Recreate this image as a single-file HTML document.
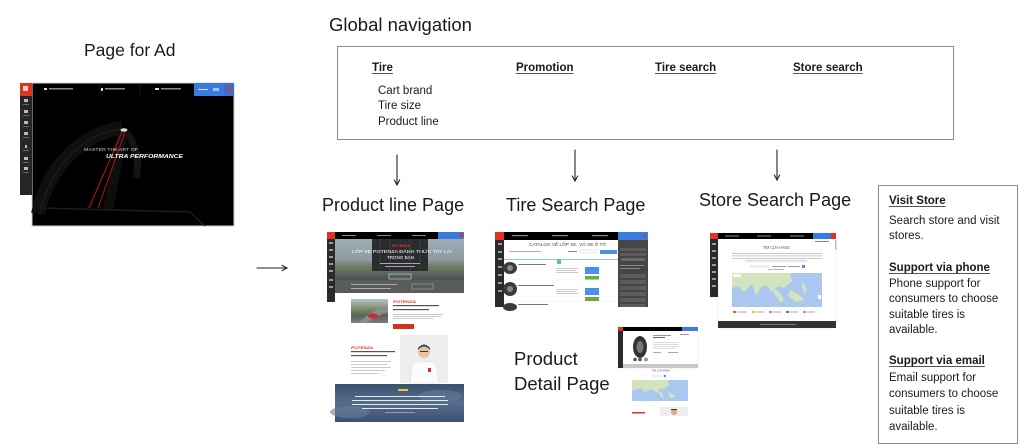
<!DOCTYPE html>
<html>
<head>
<meta charset="utf-8">
<style>
  html,body{margin:0;padding:0;background:#fff;}
  body{width:1024px;height:448px;position:relative;overflow:hidden;font-family:"Liberation Sans","Noto Sans CJK SC",sans-serif;}
  .t{position:absolute;white-space:nowrap;color:#1a1a1a;font-family:"Liberation Sans","Noto Sans CJK SC",sans-serif;}
  .big{font-size:18px;line-height:22px;}
  .nh{font-size:11.5px;line-height:14px;font-weight:bold;text-decoration:underline;text-decoration-color:#555;text-underline-offset:2px;}
  .ns{font-size:11.5px;line-height:14px;}
  .r{font-size:11.5px;line-height:15px;left:889px;}
  .rb{font-weight:bold;text-decoration:underline;text-decoration-color:#555;text-underline-offset:2px;}
  .box{position:absolute;border:1px solid #8c8c8c;box-sizing:border-box;}
</style>
</head>
<body>

<div class="box" style="left:337px;top:46px;width:617px;height:94px;"></div>
<div class="box" style="left:878px;top:185px;width:140px;height:259px;"></div>

<svg width="1024" height="448" style="position:absolute;left:0;top:0" xmlns="http://www.w3.org/2000/svg">
  <defs>
    <linearGradient id="hero" x1="0" y1="0" x2="0" y2="1">
      <stop offset="0" stop-color="#9eacb6"/>
      <stop offset="0.5" stop-color="#8f9ba1"/>
      <stop offset="0.68" stop-color="#6f7c62"/>
      <stop offset="1" stop-color="#4a4f53"/>
    </linearGradient>
    <linearGradient id="sky" x1="0" y1="0" x2="0" y2="1">
      <stop offset="0" stop-color="#3a506f"/>
      <stop offset="0.5" stop-color="#566c8c"/>
      <stop offset="1" stop-color="#3d5272"/>
    </linearGradient>
    <linearGradient id="car" x1="0" y1="0" x2="0" y2="1">
      <stop offset="0" stop-color="#b9c3c9"/>
      <stop offset="0.4" stop-color="#7f8f6c"/>
      <stop offset="0.7" stop-color="#5a6355"/>
      <stop offset="1" stop-color="#7a7e80"/>
    </linearGradient>
  </defs>

  <!-- ================= Page for Ad ================= -->
  <rect x="32" y="83" width="202" height="143" fill="#000" stroke="#cfcfcf" stroke-width="1"/>
  <rect x="20" y="83" width="12" height="112" fill="#262626"/>
  <rect x="20" y="83" width="12" height="13" fill="#e2321f"/>
  <rect x="23" y="86" width="5" height="5" fill="#fff" opacity="0.8"/>
  <g fill="#bbb">
    <rect x="24" y="99" width="4" height="3"/><rect x="23" y="104" width="6" height="1" fill="#666"/>
    <rect x="24" y="110" width="4" height="3"/><rect x="23" y="115" width="6" height="1" fill="#666"/>
    <rect x="24" y="121" width="4" height="3"/><rect x="23" y="126" width="6" height="1" fill="#666"/>
    <rect x="24" y="132" width="4" height="3"/><rect x="23" y="137" width="6" height="1" fill="#666"/>
    <rect x="25" y="145" width="2" height="3"/><rect x="23" y="150" width="6" height="1" fill="#666"/>
    <rect x="24" y="157" width="4" height="3"/><rect x="23" y="162" width="6" height="1" fill="#666"/>
    <rect x="24" y="167" width="4" height="3"/><rect x="23" y="172" width="6" height="1" fill="#666"/>
  </g>
  <g fill="#888">
    <rect x="44" y="88" width="3" height="2" fill="#ddd"/><rect x="49" y="88" width="24" height="1.5"/>
    <rect x="101" y="88" width="2" height="3" fill="#ddd"/><rect x="105" y="88" width="20" height="1.5"/>
    <rect x="155" y="88" width="4" height="2" fill="#ddd"/><rect x="161" y="88" width="20" height="1.5"/>
  </g>
  <line x1="100" y1="84" x2="100" y2="95" stroke="#1a1a1a"/>
  <line x1="140" y1="84" x2="140" y2="95" stroke="#1a1a1a"/>
  <rect x="194" y="83" width="40" height="13" fill="#3a7be0"/>
  <rect x="198" y="89" width="10" height="1" fill="#cfe0ff"/>
  <rect x="213" y="88" width="6" height="3" fill="#cfe0ff" opacity="0.7"/>
  <rect x="224" y="83" width="10" height="13" fill="#3a6fd0"/>
  <circle cx="229" cy="89" r="2" fill="#e2321f"/>
  <!-- beam (faint) -->
  <path d="M38 214 C48 165, 85 132, 122 128" stroke="#0f0f0f" stroke-width="14" fill="none"/>
  <path d="M40 212 C52 162, 88 132, 121 129" stroke="#262626" stroke-width="0.8" fill="none"/>
  <path d="M127 133 C136 145, 140 162, 136 178" stroke="#141414" stroke-width="7" fill="none"/>
  <path d="M123 132 L108 210" stroke="#0e0e0e" stroke-width="10"/>
  <line x1="122" y1="132" x2="89" y2="208" stroke="#a8161a" stroke-width="1.1"/>
  <line x1="125" y1="132" x2="98" y2="208" stroke="#a8161a" stroke-width="1.1"/>
  <ellipse cx="124" cy="130" rx="3.5" ry="1.8" fill="#d8d8d8"/>
  <path d="M40 208 L190 212 L205 226" stroke="#1c1c1c" stroke-width="1.5" fill="none"/>
  <text x="84" y="151" font-size="4.5" fill="#ccc" textLength="54" lengthAdjust="spacingAndGlyphs" font-family="Liberation Sans">MASTER THE ART OF</text>
  <text x="106" y="158" font-size="5.5" fill="#fff" font-weight="bold" font-style="italic" textLength="77" lengthAdjust="spacingAndGlyphs" font-family="Liberation Sans">ULTRA PERFORMANCE</text>

  <!-- ================= Product line Page ================= -->
  <rect x="327" y="232" width="8" height="70" fill="#2a2a2a"/>
  <rect x="327" y="232" width="8" height="7" fill="#e2321f"/>
  <g fill="#999"><rect x="329" y="242" width="4" height="2"/><rect x="329" y="249" width="4" height="2"/><rect x="329" y="256" width="4" height="2"/><rect x="329" y="263" width="4" height="2"/><rect x="329" y="270" width="4" height="2"/><rect x="329" y="279" width="4" height="2"/><rect x="329" y="286" width="4" height="2"/></g>
  <rect x="335" y="232" width="103" height="7" fill="#000"/>
  <g fill="#888"><rect x="342" y="235" width="14" height="1"/><rect x="377" y="235" width="14" height="1"/><rect x="412" y="235" width="14" height="1"/></g>
  <rect x="438" y="232" width="26" height="7" fill="#3a7be0"/>
  <rect x="460" y="233" width="3" height="4" fill="#e2321f"/>
  <rect x="335" y="239" width="129" height="41" fill="url(#hero)"/>
  <rect x="372" y="239" width="56" height="32" fill="#2a2c2f"/>
  <g stroke="#3b3e42" stroke-width="1"><line x1="380" y1="239" x2="380" y2="271"/><line x1="390" y1="239" x2="390" y2="271"/><line x1="410" y1="239" x2="410" y2="271"/><line x1="420" y1="239" x2="420" y2="271"/></g>
  <text x="392" y="247" font-size="3.5" fill="#e2321f" font-weight="bold" textLength="18" lengthAdjust="spacingAndGlyphs" font-family="Liberation Sans">POTENZA</text>
  <text x="352" y="253" font-size="4.5" fill="#fff" textLength="100" lengthAdjust="spacingAndGlyphs" font-family="Liberation Sans">LỐP XE POTENZA ĐÁNH THỨC TAY LÁI</text>
  <text x="387" y="259" font-size="4.5" fill="#fff" textLength="27" lengthAdjust="spacingAndGlyphs" font-family="Liberation Sans">TRONG BẠN</text>
  <rect x="380" y="263" width="40" height="1" fill="#ddd" opacity="0.7"/>
  <rect x="385" y="266" width="30" height="1" fill="#ddd" opacity="0.7"/>
  <rect x="389" y="274" width="22" height="5" fill="none" stroke="#ddd" stroke-width="0.6"/>
  <rect x="335" y="280" width="129" height="13" fill="#5b5b5b"/>
  <rect x="351" y="284" width="46" height="1" fill="#aaa"/>
  <rect x="351" y="288" width="40" height="1" fill="#aaa"/>
  <rect x="412" y="284" width="21" height="5" fill="none" stroke="#aaa" stroke-width="0.6"/>
  <rect x="351" y="299" width="37" height="24" fill="url(#car)"/>
  <path d="M358 323 Q372 310 388 306 L388 312 Q375 316 366 323Z" fill="#8a8d90"/>
  <ellipse cx="373" cy="316" rx="5" ry="2.5" fill="#d42a2a"/>
  <text x="393" y="303" font-size="3.5" fill="#e2321f" font-weight="bold" font-style="italic" textLength="23" lengthAdjust="spacingAndGlyphs" font-family="Liberation Sans">POTENZA</text>
  <rect x="393" y="305" width="46" height="1.2" fill="#555"/>
  <rect x="393" y="309" width="36" height="1.2" fill="#555"/>
  <g fill="#bbb"><rect x="393" y="314" width="50" height="0.8"/><rect x="393" y="316" width="48" height="0.8"/><rect x="393" y="318" width="40" height="0.8"/></g>
  <rect x="393" y="324" width="21" height="5" fill="#d2321e"/>
  <rect x="400" y="335" width="48" height="48" fill="#eeeeee"/>
  <path d="M410 383 L412 364 Q424 358 436 364 L439 383Z" fill="#fbfbfb" stroke="#d8d8d8" stroke-width="0.5"/>
  <circle cx="424" cy="352" r="6" fill="#e7c2a4"/>
  <path d="M418 350 Q424 343 430 350 L430 348 Q424 341 418 348Z" fill="#444"/>
  <rect x="420" y="351" width="8" height="1" fill="#333"/>
  <rect x="428" y="368" width="3" height="4" fill="#c33"/>
  <text x="351" y="349" font-size="3.5" fill="#e2321f" font-weight="bold" font-style="italic" textLength="22" lengthAdjust="spacingAndGlyphs" font-family="Liberation Sans">POTENZA</text>
  <rect x="351" y="351" width="44" height="1.2" fill="#555"/>
  <rect x="351" y="355" width="36" height="1.2" fill="#555"/>
  <g fill="#bbb"><rect x="351" y="361" width="40" height="0.8"/><rect x="351" y="364" width="36" height="0.8"/><rect x="351" y="367" width="40" height="0.8"/><rect x="351" y="370" width="34" height="0.8"/><rect x="351" y="373" width="28" height="0.8"/></g>
  <rect x="335" y="384" width="129" height="38" fill="url(#sky)"/>
  <ellipse cx="350" cy="412" rx="20" ry="6" fill="#6b7f99" opacity="0.6"/>
  <ellipse cx="440" cy="396" rx="22" ry="6" fill="#6a7e98" opacity="0.5"/>
  <rect x="398" y="389" width="10" height="2" fill="#e8c53a"/>
  <g fill="#e6ecf3"><rect x="355" y="396" width="90" height="1"/><rect x="352" y="400" width="96" height="1"/><rect x="352" y="404" width="96" height="1"/><rect x="362" y="408" width="76" height="1"/><rect x="385" y="412" width="30" height="0.8" fill="#aab"/></g>

  <!-- ================= Tire Search Page ================= -->
  <rect x="495" y="232" width="153" height="75" fill="#fff"/>
  <rect x="495" y="232" width="9" height="75" fill="#2a2a2a"/>
  <rect x="495" y="232" width="9" height="8" fill="#e2321f"/>
  <g fill="#999"><rect x="498" y="243" width="4" height="2"/><rect x="498" y="251" width="4" height="2"/><rect x="498" y="258" width="4" height="2"/><rect x="498" y="266" width="4" height="2"/><rect x="498" y="274" width="4" height="2"/><rect x="498" y="282" width="4" height="2"/><rect x="498" y="290" width="4" height="2"/></g>
  <rect x="504" y="232" width="114" height="8" fill="#000"/>
  <g fill="#888"><rect x="512" y="235" width="16" height="1.2"/><rect x="552" y="235" width="16" height="1.2"/><rect x="592" y="235" width="16" height="1.2"/></g>
  <rect x="618" y="232" width="30" height="8" fill="#3a7be0"/>
  <rect x="644" y="234" width="2" height="3" fill="#e2321f"/>
  <rect x="618" y="240" width="30" height="67" fill="#464646"/>
  <g fill="#5c5c5c"><rect x="620" y="248" width="26" height="3"/><rect x="620" y="253" width="26" height="3"/><rect x="621" y="258" width="24" height="3" fill="#6a6a6a"/><rect x="620" y="265" width="24" height="1" fill="#888"/><rect x="620" y="268" width="20" height="1" fill="#888"/>
  <rect x="620" y="274" width="26" height="4"/><rect x="620" y="280" width="26" height="4"/><rect x="620" y="286" width="26" height="4"/><rect x="620" y="292" width="26" height="4"/><rect x="620" y="298" width="26" height="4"/><rect x="620" y="304" width="26" height="3"/></g>
  <text x="529" y="246" font-size="4.8" fill="#444" textLength="77" lengthAdjust="spacingAndGlyphs" font-family="Liberation Sans">CATALOG VỀ LỐP XE, VỎ XE Ô TÔ</text>
  <rect x="509" y="251" width="32" height="1" fill="#aaa"/>
  <rect x="568" y="251" width="9" height="1" fill="#888"/>
  <rect x="580" y="250" width="16" height="3" fill="none" stroke="#ccc" stroke-width="0.5"/>
  <rect x="600" y="250" width="17" height="4" fill="#4a8ff0"/>
  <rect x="504" y="259" width="114" height="1" fill="#8fd0cc"/>
  <rect x="557" y="259" width="4" height="5" fill="#5bbfb0"/>
  <ellipse cx="510" cy="268" rx="7" ry="6" fill="#3b3b3b"/>
  <ellipse cx="510" cy="268" rx="3" ry="3" fill="#888"/>
  <ellipse cx="510" cy="289" rx="7" ry="7" fill="#3b3b3b"/>
  <ellipse cx="510" cy="289" rx="3" ry="3" fill="#888"/>
  <ellipse cx="510" cy="307" rx="7" ry="4" fill="#3b3b3b"/>
  <g fill="#777"><rect x="518" y="264" width="28" height="1"/><rect x="518" y="285" width="36" height="1"/><rect x="518" y="304" width="30" height="1"/></g>
  <g fill="#bbb"><rect x="556" y="268" width="22" height="0.8"/><rect x="556" y="270" width="20" height="0.8"/><rect x="556" y="272" width="22" height="0.8"/><rect x="556" y="289" width="22" height="0.8"/><rect x="556" y="291" width="20" height="0.8"/><rect x="556" y="293" width="22" height="0.8"/></g>
  <rect x="585" y="267" width="14" height="7" fill="#4a8ff0"/>
  <rect x="585" y="276" width="14" height="3.5" fill="#6aab3a"/>
  <rect x="585" y="288" width="14" height="7" fill="#4a8ff0"/>
  <rect x="585" y="297" width="14" height="4" fill="#6aab3a"/>
  <line x1="504" y1="280" x2="618" y2="280" stroke="#eee" stroke-width="0.6"/>
  <line x1="504" y1="301.5" x2="618" y2="301.5" stroke="#eee" stroke-width="0.6"/>

  <!-- ================= Store Search Page ================= -->
  <rect x="718" y="233" width="118" height="95" fill="#fff" stroke="#e3e3e3" stroke-width="0.5"/>
  <rect x="710" y="233" width="8" height="64" fill="#2a2a2a"/>
  <rect x="710" y="233" width="8" height="6" fill="#e2321f"/>
  <g fill="#999"><rect x="712" y="243" width="4" height="2"/><rect x="712" y="250" width="4" height="2"/><rect x="712" y="257" width="4" height="2"/><rect x="712" y="264" width="4" height="2"/><rect x="712" y="271" width="4" height="2"/><rect x="712" y="278" width="4" height="2"/><rect x="712" y="285" width="4" height="2"/></g>
  <rect x="718" y="233" width="95" height="6" fill="#000"/>
  <g fill="#888"><rect x="725" y="235.5" width="14" height="1"/><rect x="757" y="235.5" width="14" height="1"/><rect x="790" y="235.5" width="14" height="1"/></g>
  <rect x="813" y="233" width="18" height="6" fill="#3a7be0"/>
  <rect x="831" y="233" width="5" height="6" fill="#e2321f"/>
  <rect x="835" y="240" width="1.5" height="10" fill="#bbb"/>
  <rect x="815" y="241" width="14" height="1" fill="#888"/>
  <text x="763" y="249" font-size="4.5" fill="#555" textLength="27" lengthAdjust="spacingAndGlyphs" font-family="Liberation Sans">TÌM CỬA HÀNG</text>
  <g fill="#bbb"><rect x="732" y="253" width="90" height="0.8"/><rect x="732" y="255.5" width="90" height="0.8"/><rect x="732" y="258" width="90" height="0.8"/><rect x="745" y="260.5" width="62" height="0.8"/></g>
  <rect x="750" y="265" width="20" height="3" fill="#eee"/>
  <rect x="772" y="266" width="14" height="1" fill="#999"/>
  <rect x="788" y="266" width="12" height="1" fill="#999"/>
  <rect x="802" y="265" width="3" height="3" fill="#4a8ff0"/>
  <rect x="768" y="269" width="16" height="1" fill="#9bbcf0"/>
  <rect x="732" y="273" width="90" height="34" fill="#aac8ef"/>
  <path d="M732 273 L790 273 L792 281 L784 288 L778 286 L772 292 L766 285 L758 289 L752 284 L744 292 L738 286 L732 288Z" fill="#d2e4bd"/>
  <path d="M770 286 L776 296 L781 303 L784 299 L779 292Z" fill="#d2e4bd"/>
  <path d="M752 284 L756 295 L760 290Z" fill="#d2e4bd"/>
  <path d="M790 290 L798 294 L805 300 L796 302 L788 296Z" fill="#d2e4bd"/>
  <path d="M803 282 L807 290 L805 294 L802 287Z" fill="#d2e4bd"/>
  <rect x="818" y="295" width="3" height="4" fill="#fff"/>
  <rect x="733" y="274" width="8" height="3" fill="#fff"/>
  <g><rect x="733" y="311" width="3" height="2" fill="#e25b4b"/><rect x="737" y="311.5" width="10" height="1" fill="#aaa"/>
  <rect x="752" y="311" width="3" height="2" fill="#f0b84a"/><rect x="756" y="311.5" width="8" height="1" fill="#aaa"/>
  <rect x="769" y="311" width="3" height="2" fill="#999"/><rect x="773" y="311.5" width="8" height="1" fill="#aaa"/>
  <rect x="786" y="311" width="3" height="2" fill="#4a7bd0"/><rect x="790" y="311.5" width="8" height="1" fill="#aaa"/>
  <rect x="803" y="311" width="3" height="2" fill="#e27ad8"/><rect x="807" y="311.5" width="8" height="1" fill="#aaa"/></g>
  <rect x="718" y="321" width="118" height="7" fill="#333"/>
  <rect x="760" y="324" width="36" height="1" fill="#777"/>

  <!-- ================= Product Detail Page ================= -->
  <rect x="618" y="327" width="80" height="41" fill="#fff" stroke="#e5e5e5" stroke-width="0.5"/>
  <rect x="618" y="327" width="5" height="41" fill="#2a2a2a"/>
  <rect x="618" y="327" width="5" height="4" fill="#e2321f"/>
  <rect x="623" y="327" width="59" height="4" fill="#000"/>
  <rect x="682" y="327" width="16" height="4" fill="#3a7be0"/>
  <rect x="623" y="364" width="75" height="4" fill="#c8c8c8"/>
  <ellipse cx="640" cy="347" rx="7" ry="11" fill="#333"/>
  <ellipse cx="640" cy="347" rx="3.5" ry="6" fill="#777"/>
  <circle cx="635" cy="359.5" r="1.8" fill="#555"/>
  <circle cx="640" cy="359.5" r="1.8" fill="#555"/>
  <circle cx="646" cy="359.5" r="2" fill="#999"/>
  <g fill="#999"><rect x="653" y="335" width="18" height="1"/><rect x="653" y="337" width="12" height="1" fill="#666"/></g>
  <g fill="#ccc"><rect x="653" y="342" width="26" height="0.7"/><rect x="653" y="344" width="26" height="0.7"/><rect x="653" y="346" width="26" height="0.7"/><rect x="653" y="348" width="22" height="0.7"/></g>
  <rect x="653" y="352" width="8" height="1" fill="#8ab0ea"/>
  <rect x="668" y="352" width="10" height="1" fill="#8ab0ea"/>
  <rect x="680" y="334" width="9" height="1" fill="#999"/>
  <text x="652" y="371.5" font-size="3" fill="#555" textLength="18" lengthAdjust="spacingAndGlyphs" font-family="Liberation Sans">TÌM CỬA HÀNG</text>
  <rect x="652" y="375" width="12" height="2" fill="#eee"/>
  <rect x="664" y="375" width="2" height="2" fill="#4a8ff0"/>
  <rect x="632" y="380" width="56" height="21" fill="#aac8ef"/>
  <path d="M632 380 L668 380 L669 385 L664 389 L660 388 L657 393 L652 389 L645 392 L640 388 L634 391 L632 390Z" fill="#d2e4bd"/>
  <path d="M657 390 L661 397 L664 399 L662 393Z" fill="#d2e4bd"/>
  <path d="M668 392 L676 396 L670 398Z" fill="#d2e4bd"/>
  <rect x="632" y="412" width="13" height="1.5" fill="#e2321f"/>
  <rect x="660" y="407" width="28" height="9" fill="#eeeeee"/>
  <circle cx="674" cy="412" r="3" fill="#d9a989"/>
  <rect x="671" y="409" width="6" height="1" fill="#333"/>

  <!-- ================= Arrows ================= -->
  <g stroke="#222" stroke-width="1.1" fill="none" stroke-linecap="round">
    <line x1="397" y1="155" x2="397" y2="185"/>
    <path d="M394.3 180 L397 185 L399.7 180"/>
    <line x1="575" y1="150" x2="575" y2="181"/>
    <path d="M572.3 176 L575 181 L577.7 176"/>
    <line x1="777" y1="150" x2="777" y2="180"/>
    <path d="M774.3 175 L777 180 L779.7 175"/>
    <line x1="257" y1="268" x2="287" y2="268"/>
    <path d="M282 265.3 L287 268 L282 270.7"/>
  </g>
</svg>

<!-- Labels -->
<div class="t" style="left:84px;top:40px;font-size:17.5px;line-height:20px;">Page for Ad</div>
<div class="t" style="left:329px;top:14px;font-size:18.5px;line-height:22px;">Global navigation</div>

<div class="t nh" style="left:372px;top:61px;">Tire</div>
<div class="t nh" style="left:516px;top:61px;">Promotion</div>
<div class="t nh" style="left:655px;top:61px;">Tire search</div>
<div class="t nh" style="left:793px;top:61px;">Store search</div>
<div class="t ns" style="left:378px;top:84px;">Cart brand</div>
<div class="t ns" style="left:378px;top:99px;">Tire size</div>
<div class="t ns" style="left:378px;top:115px;">Product line</div>

<div class="t big" style="left:322px;top:194px;">Product line Page</div>
<div class="t big" style="left:506px;top:194px;">Tire Search Page</div>
<div class="t big" style="left:699px;top:189px;">Store Search Page</div>
<div class="t big" style="left:514px;top:348px;font-size:18.5px;">Product</div>
<div class="t big" style="left:514px;top:373px;font-size:18.5px;">Detail Page</div>

<div class="t r rb" style="top:194px;">Visit Store</div>
<div class="t r" style="top:214px;">Search store and visit</div>
<div class="t r" style="top:229px;">stores.</div>
<div class="t r rb" style="top:261px;">Support via phone</div>
<div class="t r" style="top:277px;">Phone support for</div>
<div class="t r" style="top:292px;">consumers to choose</div>
<div class="t r" style="top:308px;">suitable tires is</div>
<div class="t r" style="top:323px;">available.</div>
<div class="t r rb" style="top:354px;">Support via email</div>
<div class="t r" style="top:371px;">Email support for</div>
<div class="t r" style="top:387px;">consumers to choose</div>
<div class="t r" style="top:404px;">suitable tires is</div>
<div class="t r" style="top:420px;">available.</div>

</body>
</html>
